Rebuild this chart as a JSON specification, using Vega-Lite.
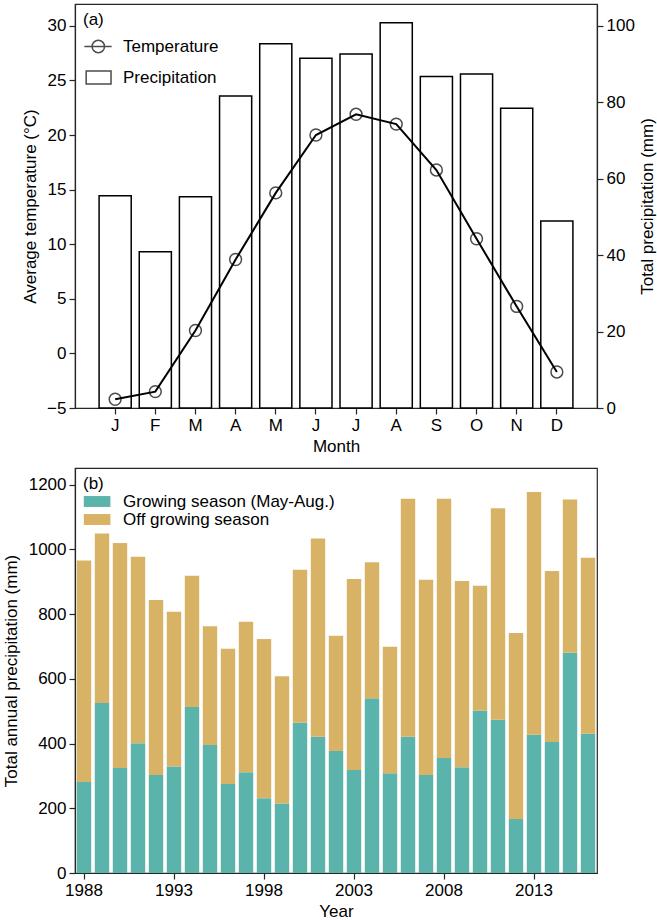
{
  "$schema": "https://vega.github.io/schema/vega-lite/v6.json",
  "background": "white",
  "padding": {"left": 1, "top": 3, "right": 2, "bottom": 2},
  "spacing": 12,
  "resolve": {"legend": {"shape": "independent", "fill": "independent"}},
  "config": {
    "font": "Liberation Sans",
    "view": {"stroke": "#262626", "strokeWidth": 1.2},
    "axis": {
      "grid": false,
      "labelFontSize": 17,
      "titleFontSize": 17,
      "titleFontWeight": "normal",
      "labelColor": "#000000",
      "titleColor": "#000000",
      "domainColor": "#262626",
      "domainWidth": 1.2,
      "tickColor": "#262626",
      "tickWidth": 1.2,
      "tickSize": 6,
      "labelPadding": 3
    },
    "legend": {
      "labelFontSize": 17,
      "titleFontSize": 17,
      "titleFontWeight": "normal",
      "labelColor": "#000000",
      "titleColor": "#000000",
      "labelLimit": 400
    }
  },
  "vconcat": [
    {
      "width": 522,
      "height": 404,
      "data": {
        "values": [
          {"Month": 1, "Temp": -4.2, "Precip": 55.5},
          {"Month": 2, "Temp": -3.5, "Precip": 40.9},
          {"Month": 3, "Temp": 2.1, "Precip": 55.3},
          {"Month": 4, "Temp": 8.6, "Precip": 81.6},
          {"Month": 5, "Temp": 14.7, "Precip": 95.3},
          {"Month": 6, "Temp": 20.0, "Precip": 91.5},
          {"Month": 7, "Temp": 21.9, "Precip": 92.6},
          {"Month": 8, "Temp": 21.0, "Precip": 100.8},
          {"Month": 9, "Temp": 16.8, "Precip": 86.7},
          {"Month": 10, "Temp": 10.5, "Precip": 87.4},
          {"Month": 11, "Temp": 4.3, "Precip": 78.4},
          {"Month": 12, "Temp": -1.7, "Precip": 48.9}
        ]
      },
      "encoding": {
        "x": {
          "field": "Month",
          "type": "ordinal",
          "scale": {"paddingInner": 0.2, "paddingOuter": 0.6},
          "axis": {
            "title": "Month",
            "labelAngle": 0,
            "titlePadding": 5,
            "labelExpr": "['J','F','M','A','M','J','J','A','S','O','N','D'][datum.value-1]"
          }
        }
      },
      "layer": [
        {
          "mark": {"type": "bar", "fill": "white", "stroke": "black", "strokeWidth": 1.5},
          "encoding": {
            "y": {
              "field": "Precip",
              "type": "quantitative",
              "scale": {"domain": [0, 105.7], "nice": false, "zero": false},
              "axis": {
                "orient": "right",
                "title": "Total precipitation (mm)",
                "values": [0, 20, 40, 60, 80, 100],
                "titleAngle": 270,
                "titleBaseline": "top",
                "titlePadding": 5
              }
            }
          }
        },
        {
          "encoding": {
            "y": {
              "field": "Temp",
              "type": "quantitative",
              "scale": {"domain": [-5, 32], "nice": false, "zero": false},
              "axis": {
                "orient": "left",
                "title": "Average temperature (°C)",
                "values": [-5, 0, 5, 10, 15, 20, 25, 30],
                "titlePadding": 7
              }
            }
          },
          "layer": [
            {"mark": {"type": "line", "color": "black", "strokeWidth": 2}},
            {
              "mark": {"type": "point", "filled": false, "stroke": "black", "strokeWidth": 1.5, "size": 140},
              "encoding": {
                "shape": {
                  "datum": "marker",
                  "type": "nominal",
                  "scale": {
                    "domain": ["Temperature", "Precipitation", "marker"],
                    "range": [
                      "M-1.2,0L3.4,0M2.2,0A1.05,1.05,0,1,1,0.1,0A1.05,1.05,0,1,1,2.2,0",
                      "M-0.9,-1.1L3.3,-1.1L3.3,1.1L-0.9,1.1Z",
                      "circle"
                    ]
                  },
                  "legend": {
                    "title": "(a)",
                    "values": ["Temperature", "Precipitation"],
                    "orient": "top-left",
                    "offset": 8,
                    "padding": 0,
                    "titlePadding": 9,
                    "rowPadding": 11,
                    "labelOffset": 23,
                    "symbolSize": 140,
                    "symbolStrokeWidth": 1.5,
                    "symbolStrokeColor": "black",
                    "symbolFillColor": "transparent"
                  }
                }
              }
            }
          ]
        }
      ],
      "resolve": {"scale": {"y": "independent"}}
    },
    {
      "width": 522,
      "height": 405,
      "data": {
        "values": [
          {"Year": 1988, "Growing": 281, "Off": 684},
          {"Year": 1989, "Growing": 525, "Off": 524},
          {"Year": 1990, "Growing": 324, "Off": 695},
          {"Year": 1991, "Growing": 401, "Off": 576},
          {"Year": 1992, "Growing": 303, "Off": 540},
          {"Year": 1993, "Growing": 329, "Off": 478},
          {"Year": 1994, "Growing": 513, "Off": 405},
          {"Year": 1995, "Growing": 395, "Off": 367},
          {"Year": 1996, "Growing": 275, "Off": 418},
          {"Year": 1997, "Growing": 311, "Off": 465},
          {"Year": 1998, "Growing": 231, "Off": 492},
          {"Year": 1999, "Growing": 215, "Off": 393},
          {"Year": 2000, "Growing": 464, "Off": 473},
          {"Year": 2001, "Growing": 421, "Off": 612},
          {"Year": 2002, "Growing": 377, "Off": 356},
          {"Year": 2003, "Growing": 318, "Off": 590},
          {"Year": 2004, "Growing": 540, "Off": 420},
          {"Year": 2005, "Growing": 308, "Off": 391},
          {"Year": 2006, "Growing": 421, "Off": 735},
          {"Year": 2007, "Growing": 303, "Off": 603},
          {"Year": 2008, "Growing": 355, "Off": 801},
          {"Year": 2009, "Growing": 327, "Off": 575},
          {"Year": 2010, "Growing": 502, "Off": 385},
          {"Year": 2011, "Growing": 473, "Off": 654},
          {"Year": 2012, "Growing": 167, "Off": 574},
          {"Year": 2013, "Growing": 427, "Off": 750},
          {"Year": 2014, "Growing": 405, "Off": 528},
          {"Year": 2015, "Growing": 680, "Off": 474},
          {"Year": 2016, "Growing": 430, "Off": 544}
        ]
      },
      "transform": [
        {"fold": ["Growing", "Off"], "as": ["Season", "mm"]}
      ],
      "mark": {"type": "bar"},
      "encoding": {
        "x": {
          "field": "Year",
          "type": "ordinal",
          "scale": {"paddingInner": 0.2, "paddingOuter": 0.1},
          "axis": {
            "title": "Year",
            "labelAngle": 0,
            "titlePadding": 5,
            "values": [1988, 1993, 1998, 2003, 2008, 2013]
          }
        },
        "y": {
          "field": "mm",
          "type": "quantitative",
          "stack": "zero",
          "scale": {"domain": [0, 1251], "nice": false},
          "axis": {
            "title": "Total annual precipitation (mm)",
            "values": [0, 200, 400, 600, 800, 1000, 1200],
            "format": "d",
            "titlePadding": 8
          }
        },
        "order": {"field": "Season", "sort": "ascending"},
        "fill": {
          "field": "Season",
          "type": "nominal",
          "scale": {"domain": ["Growing", "Off"], "range": ["#5ab4ac", "#d8b365"]},
          "legend": {
            "title": "(b)",
            "orient": "top-left",
            "offset": 8,
            "padding": 0,
            "titlePadding": 0,
            "rowPadding": 0,
            "labelOffset": 23,
            "symbolSize": 196,
            "symbolType": "M-1.1,-0.78L2.7,-0.78L2.7,0.78L-1.1,0.78Z",
            "symbolOpacity": 1,
            "labelExpr": "datum.label === 'Growing' ? 'Growing season (May-Aug.)' : 'Off growing season'"
          }
        }
      }
    }
  ]
}
